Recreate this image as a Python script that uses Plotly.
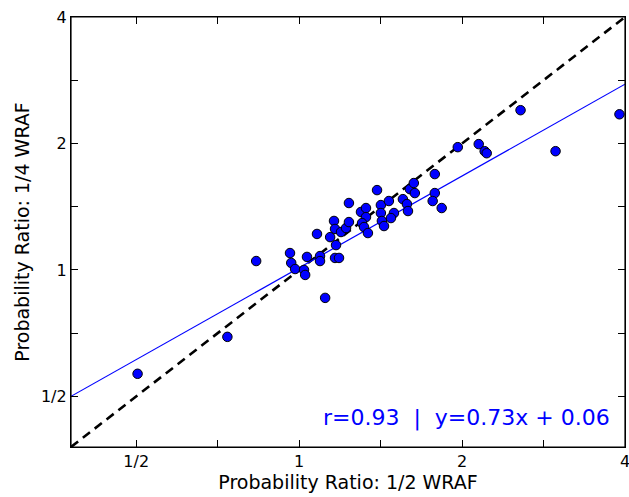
import numpy as np
import plotly.graph_objects as go

# Probability ratios
x_half_wraf = [0.503, 0.737, 0.833, 0.962, 0.967, 0.983, 1.021, 1.026, 1.034, 1.093,
               1.093, 1.117, 1.165, 1.185, 1.079, 1.141, 1.170, 1.160, 1.165, 1.195,
               1.221, 1.236, 1.236, 1.301, 1.329, 1.329, 1.307, 1.318, 1.340, 1.393,
               1.416, 1.416, 1.422, 1.435, 1.465, 1.497, 1.478, 1.555, 1.582, 1.589,
               1.602, 1.629, 1.636, 1.781, 1.781, 1.765, 1.834, 1.964, 2.147, 2.202,
               2.221, 2.565, 2.977, 3.907]
y_quarter_wraf = [0.566, 0.693, 1.050, 1.097, 1.039, 1.005, 1.000, 0.973, 1.074, 1.079,
                  1.050, 0.858, 1.068, 1.068, 1.218, 1.197, 1.146, 1.308, 1.252, 1.231,
                  1.258, 1.300, 1.443, 1.374, 1.404, 1.336, 1.293, 1.265, 1.224, 1.549,
                  1.427, 1.366, 1.308, 1.272, 1.459, 1.366, 1.329, 1.474, 1.435, 1.381,
                  1.557, 1.610, 1.524, 1.691, 1.524, 1.459, 1.404, 1.960, 1.993, 1.917,
                  1.896, 2.400, 1.917, 2.347]

# Fit line drawn in log2 space
fit_slope = 0.726
fit_intercept = 0.017
fit_label = "r=0.93  |  y=0.73x + 0.06"

tick_values = [0.5, 2 ** -0.5, 1, 2 ** 0.5, 2, 2 ** 1.5, 4]
tick_labels = ["1/2", "", "1", "", "2", "", "4"]

log2_min, log2_max = -1.4, 2.0
axis_range = [log2_min * np.log10(2), log2_max * np.log10(2)]

line_x = np.array([2 ** log2_min, 2 ** log2_max])
fit_lx = np.linspace(log2_min, log2_max, 50)
fit_x = 2 ** fit_lx
fit_y = 2 ** (fit_slope * fit_lx + fit_intercept)

fig = go.Figure()
fig.add_trace(go.Scatter(x=line_x, y=line_x, mode="lines",
                         line=dict(color="black", width=2.6, dash="9px,6px"),
                         hoverinfo="skip", showlegend=False))
fig.add_trace(go.Scatter(x=fit_x, y=fit_y, mode="lines",
                         line=dict(color="#0000ff", width=1.2),
                         hoverinfo="skip", showlegend=False))
fig.add_trace(go.Scatter(x=x_half_wraf, y=y_quarter_wraf, mode="markers",
                         marker=dict(color="#0000ff", size=9.5,
                                     line=dict(color="black", width=1)),
                         cliponaxis=False, showlegend=False))

axis_common = dict(
    type="log", range=axis_range, tickmode="array", tickvals=tick_values,
    ticktext=tick_labels, ticks="inside", ticklen=7, tickwidth=1, tickcolor="black",
    showline=True, linecolor="black", linewidth=1.2, mirror="allticks",
    showgrid=False, zeroline=False, automargin=False, ticklabeloverflow="allow",
    tickfont=dict(family="DejaVu Sans", size=16, color="black"),
)

fig.update_layout(
    xaxis=dict(**axis_common,
               title=dict(text="Probability Ratio: 1/2 WRAF",
                          font=dict(family="DejaVu Sans", size=19, color="black"),
                          standoff=4)),
    yaxis=dict(**axis_common,
               title=dict(text="Probability Ratio: 1/4 WRAF",
                          font=dict(family="DejaVu Sans", size=19, color="black"),
                          standoff=6)),
)

# plot frame
fig.add_shape(type="rect", xref="paper", yref="paper", x0=0, y0=0, x1=1, y1=1,
              line=dict(color="black", width=1.2), layer="above")

fig.add_annotation(text=fit_label, xref="paper", yref="paper", x=0.977, y=0.067,
                   xanchor="right", yanchor="middle", showarrow=False,
                   font=dict(family="DejaVu Sans", size=22, color="#0000ff"))

fig.update_layout(width=629, height=497, margin=dict(l=71, r=4, t=17, b=50),
                  plot_bgcolor="white", paper_bgcolor="white")

fig.write_html("out.html", config={"displayModeBar": False},
               post_script="document.body.style.margin='0';document.body.style.padding='0';")
